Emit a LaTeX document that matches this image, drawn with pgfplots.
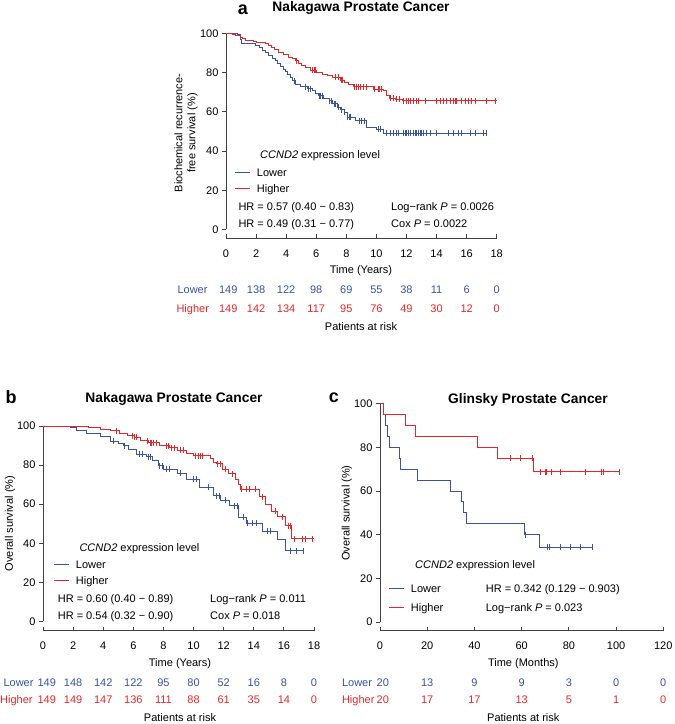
\documentclass[border=0pt]{standalone}
\usepackage{fontspec}
\setmainfont{Liberation Sans}
\usepackage{pgfplots}
\pgfplotsset{compat=1.18}
\definecolor{lowc}{RGB}{58,83,164}
\definecolor{highc}{RGB}{232,38,42}
\newcommand{\fs}{\fontsize{11pt}{13pt}\selectfont}
\newcommand{\key}[2]{\textcolor{#1}{\rule[3.4pt]{15pt}{1pt}}\hspace{6.7pt}#2}

\pgfplotsset{
  km/.style={
    scale only axis, clip=false,
    axis x line*=bottom, axis y line*=left,
    xtick align=inside, ytick align=outside,
    xmin=0, ymax=100,
    ytick={0,20,...,100},
    tick label style={font=\fs},
    /pgf/number format/assume math mode=true,
    xticklabel shift=8pt,
    axis line style={line width=0.9pt, black!75},
    tick style={line width=0.9pt, black!75},
    major tick length=4pt,
  },
  curve/.style={const plot, line width=0.9pt, mark=none},
  cens/.style={only marks, mark=|, mark size=3pt, mark options={line width=0.7pt}},
  risk/.style={draw=none, mark=none, nodes near coords,
    point meta=explicit symbolic,
    every node near coord/.append style={anchor=center, font=\fs, text=#1}},
}

\begin{document}
\begin{tikzpicture}
\useasboundingbox (0pt,0pt) rectangle (675pt,724pt);

% ---------- a ----------
\begin{axis}[km, at={(226pt,485.7pt)}, anchor=south west,
  width=270.7pt, height=205pt, xmax=18, ymin=-4.49,
  xtick={0,2,...,18},
  y axis line style={shorten <=8.8pt}]
\addplot[curve, lowc] coordinates {(0,100)(0.75,99.6)(0.95,97.1)(1.05,94.9)(1.95,93.7)(2.2,92.6)(2.4,91.5)(2.6,90.0)(2.85,88.6)(3.1,87.3)(3.3,86.0)(3.45,84.5)(3.6,83.0)(3.8,81.8)(3.95,80.6)(4.1,79.1)(4.27,77.6)(4.45,75.8)(4.6,74.1)(4.95,72.8)(5.4,71.8)(5.72,70.8)(5.95,69.5)(6.15,68.2)(6.5,67.0)(6.85,65.7)(7.1,64.0)(7.4,62.2)(7.6,61.0)(7.85,59.7)(8.05,57.1)(8.6,55.5)(9.35,52.0)(10.0,51.2)(10.45,49.0)(17.3,49.0)};
\addplot[curve, highc] coordinates {(0,100)(0.45,99.3)(0.6,98.7)(0.95,98.0)(1.1,97.3)(1.3,96.6)(1.85,95.9)(2.0,95.3)(2.6,94.6)(2.8,94.0)(3.05,92.9)(3.25,91.6)(3.5,90.3)(3.8,89.0)(4.15,87.8)(4.4,87.0)(4.6,86.1)(4.85,84.8)(5.05,83.5)(5.3,82.4)(5.6,81.3)(6.0,80.2)(6.4,79.2)(6.75,78.4)(7.05,77.6)(7.6,76.2)(7.9,75.2)(8.15,74.1)(8.5,72.8)(9.8,71.6)(10.45,70.8)(10.65,68.2)(10.9,67.0)(11.25,66.5)(11.7,65.6)(18,65.6)};
\addplot[cens, lowc] coordinates {(4.52,75.8)(5.3,72.8)(5.5,71.8)(5.6,71.8)(6.2,68.2)(6.3,68.2)(6.4,68.2)(6.9,65.7)(7.0,65.7)(7.2,64.0)(7.3,64.0)(7.45,62.2)(7.5,62.2)(7.7,61.0)(7.9,59.7)(8.1,57.1)(8.2,57.1)(8.3,57.1)(8.9,55.5)(9.0,55.5)(9.2,55.5)(10.1,51.2)(10.25,51.2)(10.68,49)(10.9,49)(11.12,49)(11.34,49)(11.45,49)(11.79,49)(11.9,49)(12.01,49)(12.12,49)(12.23,49)(12.45,49)(12.56,49)(12.68,49)(12.79,49)(12.9,49)(13.01,49)(13.12,49)(13.34,49)(13.56,49)(14.0,49)(14.78,49)(15.12,49)(15.45,49)(15.68,49)(16.23,49)(16.57,49)(17.12,49)(17.3,49)};
\addplot[cens, highc] coordinates {(4.7,86.1)(5.75,81.3)(5.85,81.3)(5.95,81.3)(7.3,77.6)(7.45,77.6)(7.65,76.2)(7.75,76.2)(8.55,72.8)(8.65,72.8)(8.8,72.8)(8.95,72.8)(9.1,72.8)(9.3,72.8)(9.85,71.6)(10.1,71.6)(10.2,71.6)(10.35,71.6)(10.95,67.0)(11.1,67.0)(11.35,66.5)(11.5,66.5)(11.79,65.6)(12.01,65.6)(12.12,65.6)(12.23,65.6)(12.45,65.6)(12.68,65.6)(12.79,65.6)(13.23,65.6)(14.0,65.6)(14.23,65.6)(14.45,65.6)(14.67,65.6)(14.9,65.6)(15.12,65.6)(15.23,65.6)(15.34,65.6)(15.68,65.6)(15.9,65.6)(16.12,65.6)(16.34,65.6)(16.57,65.6)(17.34,65.6)(17.9,65.6)};
\addplot[risk=lowc] coordinates {(0.15,-30.8)[149](2,-30.8)[138](4,-30.8)[122](6,-30.8)[98](8,-30.8)[69](10,-30.8)[55](12,-30.8)[38](14,-30.8)[11](16,-30.8)[6](18,-30.8)[0]};
\addplot[risk=highc] coordinates {(0.15,-40.5)[149](2,-40.5)[142](4,-40.5)[134](6,-40.5)[117](8,-40.5)[95](10,-40.5)[76](12,-40.5)[49](14,-40.5)[30](16,-40.5)[12](18,-40.5)[0]};
\end{axis}

% ---------- b ----------
\begin{axis}[km, at={(43pt,93.3pt)}, anchor=south west,
  width=271pt, height=204.7pt, xmax=18, ymin=-4.7,
  xtick={0,2,...,18},
  y axis line style={shorten <=9.2pt}]
\addplot[curve, lowc] coordinates {(0,100)(1.8,99.3)(2.25,97.6)(2.9,96.2)(3.8,94.7)(4.45,92.1)(5.0,91.0)(5.35,89.9)(5.67,88.2)(6.2,85.7)(6.9,84.3)(7.3,82.3)(7.67,79.7)(8.0,78.0)(8.9,75.8)(9.55,72.9)(10.4,68.6)(11.3,64.4)(11.8,62.0)(12.4,59.3)(13.0,53.3)(13.5,50.2)(14.6,46.3)(15.55,42.0)(16.1,36.3)(17.3,36.3)};
\addplot[curve, highc] coordinates {(0,100)(3.0,99.4)(3.8,98.4)(4.45,97.6)(5.1,96.0)(5.6,95.1)(6.05,94.2)(6.45,92.5)(7.0,91.5)(7.75,90.0)(8.4,89.0)(8.9,87.5)(9.5,86.0)(10.0,84.8)(11.1,83.6)(11.3,81.5)(11.5,80.6)(11.9,78.0)(12.3,75.5)(12.75,72.9)(12.95,70.0)(13.1,67.8)(14.4,63.9)(14.75,60.1)(15.2,56.4)(15.6,53.7)(16.1,49.0)(16.5,42.3)(18.0,42.3)};
\addplot[cens, lowc] coordinates {(4.7,92.1)(5.4,89.9)(6.4,85.7)(6.6,85.7)(7.0,84.3)(7.1,84.3)(7.7,79.7)(7.9,79.7)(8.2,78.0)(8.4,78.0)(9.1,75.8)(10.0,72.9)(10.2,72.9)(11.0,68.6)(11.5,64.4)(11.7,64.4)(12.1,62.0)(12.7,59.3)(12.9,59.3)(13.3,53.3)(13.6,50.2)(13.9,50.2)(14.2,50.2)(14.9,46.3)(15.1,46.3)(16.4,36.3)(16.85,36.3)(17.3,36.3)};
\addplot[cens, highc] coordinates {(4.9,97.6)(5.95,95.1)(6.1,94.2)(6.2,94.2)(6.9,92.5)(7.1,91.5)(7.2,91.5)(7.35,91.5)(7.5,91.5)(8.2,90.0)(8.35,90.0)(8.5,89.0)(8.7,89.0)(9.1,87.5)(9.3,87.5)(10.1,84.8)(10.3,84.8)(10.45,84.8)(10.6,84.8)(11.6,80.6)(11.75,80.6)(12.1,78.0)(12.6,75.5)(13.2,67.8)(13.5,67.8)(13.7,67.8)(14.1,67.8)(14.6,63.9)(15.4,56.4)(15.9,53.7)(16.3,49.0)(16.4,49.0)(16.7,42.3)(17.2,42.3)(17.4,42.3)(17.9,42.3)};
\addplot[risk=lowc] coordinates {(0.25,-31.3)[149](2,-31.3)[148](4,-31.3)[142](6,-31.3)[122](8,-31.3)[95](10,-31.3)[80](12,-31.3)[52](14,-31.3)[16](16,-31.3)[8](18,-31.3)[0]};
\addplot[risk=highc] coordinates {(0.25,-40.2)[149](2,-40.2)[149](4,-40.2)[147](6,-40.2)[136](8,-40.2)[111](10,-40.2)[88](12,-40.2)[61](14,-40.2)[35](16,-40.2)[14](18,-40.2)[0]};
\end{axis}

% ---------- c ----------
\begin{axis}[km, at={(380pt,93.3pt)}, anchor=south west,
  width=283.3pt, height=227pt, xmax=120, ymin=-3.99,
  xtick={0,20,...,120},
  y axis line style={shorten <=8.7pt}]
\addplot[curve, lowc] coordinates {(0,100)(1.4,95)(2.1,90)(3.2,85)(4.0,80)(8.2,75)(8.5,70)(16.0,65)(29.7,60)(34.7,55)(35.3,50)(36.7,45)(61.1,40)(67.5,34.29)(90.1,34.29)};
\addplot[curve, highc] coordinates {(0,100)(1.4,95)(10.7,90)(15,85)(41.1,80)(49.6,75)(64.8,68.75)(101.4,68.75)};
\addplot[cens, lowc] coordinates {(61.7,40)(70.9,34.29)(71.7,34.29)(76.3,34.29)(80.8,34.29)(84.7,34.29)(90.1,34.29)};
\addplot[cens, highc] coordinates {(55.2,75)(59.5,75)(64.4,75)(68.1,68.75)(69.9,68.75)(70.6,68.75)(72.5,68.75)(76.3,68.75)(86.9,68.75)(93.9,68.75)(94.6,68.75)(101.4,68.75)};
\addplot[risk=lowc] coordinates {(1.2,-27.8)[20](20,-27.8)[13](40,-27.8)[9](60,-27.8)[9](80,-27.8)[3](100,-27.8)[0](120,-27.8)[0]};
\addplot[risk=highc] coordinates {(1.2,-35.7)[20](20,-35.7)[17](40,-35.7)[17](60,-35.7)[13](80,-35.7)[5](100,-35.7)[1](120,-35.7)[0]};
\end{axis}

% ---------- text around panel a ----------
\node[font=\fontsize{18pt}{20pt}\selectfont\bfseries, anchor=base] at (243pt,709pt) {a};
\node[font=\fontsize{13.8pt}{16pt}\selectfont\bfseries, anchor=base] at (361pt,712pt) {Nakagawa Prostate Cancer};
\node[font=\fs, rotate=90, align=center] at (186pt,591pt) {Biochemical recurrence-\\free survival (\%)};
\node[font=\fs, anchor=base west] at (256.7pt,565pt) {\textit{CCND2} expression level};
\node[font=\fs, anchor=base west, inner xsep=0pt] at (235pt,547.6pt) {\key{lowc}{Lower}};
\node[font=\fs, anchor=base west, inner xsep=0pt] at (235pt,531.6pt) {\key{highc}{Higher}};
\node[font=\fs, anchor=base west] at (235pt,513.3pt) {HR = 0.57 (0.40 − 0.83)};
\node[font=\fs, anchor=base west] at (235pt,496.7pt) {HR = 0.49 (0.31 − 0.77)};
\node[font=\fs, anchor=base west] at (387.7pt,513.3pt) {Log−rank \textit{P} = 0.0026};
\node[font=\fs, anchor=base west] at (387.7pt,496.7pt) {Cox \textit{P} = 0.0022};
\node[font=\fs] at (361pt,453.3pt) {Time (Years)};
\node[font=\fs, anchor=base west, text=lowc] at (174pt,430pt) {Lower};
\node[font=\fs, anchor=base west, text=highc] at (173pt,411pt) {Higher};
\node[font=\fs] at (361pt,397pt) {Patients at risk};

% ---------- text around panel b ----------
\node[font=\fontsize{18pt}{20pt}\selectfont\bfseries, anchor=base] at (11pt,320.7pt) {b};
\node[font=\fontsize{13.8pt}{16pt}\selectfont\bfseries, anchor=base] at (174pt,321pt) {Nakagawa Prostate Cancer};
\node[font=\fs, rotate=90] at (10pt,200.5pt) {Overall survival (\%)};
\node[font=\fs, anchor=base west] at (76pt,172.7pt) {\textit{CCND2} expression level};
\node[font=\fs, anchor=base west, inner xsep=0pt] at (54pt,155.6pt) {\key{lowc}{Lower}};
\node[font=\fs, anchor=base west, inner xsep=0pt] at (54pt,139.6pt) {\key{highc}{Higher}};
\node[font=\fs, anchor=base west] at (54.3pt,121pt) {HR = 0.60 (0.40 − 0.89)};
\node[font=\fs, anchor=base west] at (54.3pt,104pt) {HR = 0.54 (0.32 − 0.90)};
\node[font=\fs, anchor=base west] at (206.7pt,121pt) {Log−rank \textit{P} = 0.011};
\node[font=\fs, anchor=base west] at (206.7pt,104pt) {Cox \textit{P} = 0.018};
\node[font=\fs] at (180pt,60pt) {Time (Years)};
\node[font=\fs, anchor=base west, text=lowc] at (0pt,37.3pt) {Lower};
\node[font=\fs, anchor=base west, text=highc, inner xsep=0pt] at (0pt,20pt) {Higher};
\node[font=\fs] at (180pt,6pt) {Patients at risk};

% ---------- text around panel c ----------
\node[font=\fontsize{18pt}{20pt}\selectfont\bfseries, anchor=base] at (334pt,321pt) {c};
\node[font=\fontsize{13.8pt}{16pt}\selectfont\bfseries, anchor=base] at (528pt,320pt) {Glinsky Prostate Cancer};
\node[font=\fs, rotate=90] at (346.7pt,211pt) {Overall survival (\%)};
\node[font=\fs, anchor=base west] at (411.7pt,155pt) {\textit{CCND2} expression level};
\node[font=\fs, anchor=base west, inner xsep=0pt] at (389pt,131.6pt) {\key{lowc}{Lower}};
\node[font=\fs, anchor=base west, inner xsep=0pt] at (389pt,112.6pt) {\key{highc}{Higher}};
\node[font=\fs, anchor=base west] at (482.3pt,131.7pt) {HR = 0.342 (0.129 − 0.903)};
\node[font=\fs, anchor=base west] at (482.3pt,112.3pt) {Log−rank \textit{P} = 0.023};
\node[font=\fs] at (523.3pt,60pt) {Time (Months)};
\node[font=\fs, anchor=base west, text=lowc] at (338.5pt,37.3pt) {Lower};
\node[font=\fs, anchor=base west, text=highc] at (338.5pt,20pt) {Higher};
\node[font=\fs] at (523.3pt,6pt) {Patients at risk};
\end{tikzpicture}
\end{document}
